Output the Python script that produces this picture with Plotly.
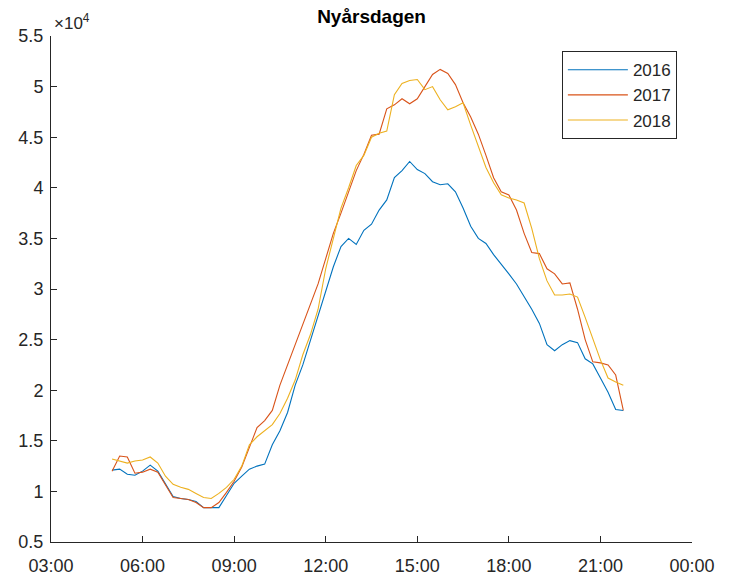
import pandas as pd
import plotly.graph_objects as go

# Quarter-hour readings on New Year's Day, 05:00 - 21:45
times = pd.date_range("2018-01-01 05:00", "2018-01-01 21:45", freq="15min")

load_2016 = [
    12100, 12200, 11700, 11600, 12000, 12600, 12000, 10700, 9500, 9300, 9200, 9000,
    8400, 8400, 8400, 9600, 10800, 11500, 12200, 12500, 12700, 14600, 16000, 17800,
    20500, 22500, 24900, 27300, 29800, 32200, 34200, 35000, 34400, 35800, 36400, 37800,
    38800, 41000, 41700, 42600, 41800, 41400, 40600, 40300, 40400, 39600, 38000, 36200,
    35000, 34500, 33400, 32500, 31500, 30500, 29300, 28000, 26600, 24500, 23900, 24500,
    24900, 24700, 23100, 22600, 21200, 19800, 18100, 18000,
]
load_2017 = [
    12000, 13500, 13400, 11800, 11900, 12200, 11900, 10600, 9400, 9300, 9200, 8900,
    8400, 8400, 8900, 9900, 11000, 12400, 14300, 16300, 17000, 18000, 20500, 22500,
    24500, 26700, 28600, 30500, 33000, 35500, 37500, 39500, 41700, 43300, 45200, 45300,
    47800, 48200, 48800, 48300, 48800, 50000, 51200, 51700, 51300, 50200, 48400, 47000,
    45300, 43200, 41000, 39600, 39300, 37800, 35500, 33600, 33500, 32000, 31500, 30500,
    30600, 28000, 25000, 22800, 22700, 22500, 21500, 18000,
]
load_2018 = [
    13200, 13000, 12800, 13000, 13100, 13400, 12800, 11500, 10700, 10400, 10200, 9800,
    9400, 9300, 9800, 10400, 11200, 12500, 14600, 15400, 16000, 16600, 17700, 19200,
    21000, 23500, 25500, 28000, 32000, 35000, 38000, 40000, 42200, 43200, 45000, 45400,
    45600, 49200, 50300, 50600, 50700, 49700, 50000, 48700, 47700, 48000, 48400, 46200,
    44000, 42000, 40500, 39300, 39000, 38800, 38500, 36000, 33000, 30800, 29400, 29400,
    29500, 29200, 27200, 25000, 23000, 21200, 20800, 20500,
]

series = [
    ("2016", load_2016, "#0072BD"),
    ("2017", load_2017, "#D95319"),
    ("2018", load_2018, "#EDB120"),
]

y_ticks = [5000 * k for k in range(1, 12)]
y_tick_text = ["0.5", "1", "1.5", "2", "2.5", "3", "3.5", "4", "4.5", "5", "5.5"]

ink = "#262626"
font_family = "Liberation Sans, Arial, sans-serif"

fig = go.Figure()
for name, values, color in series:
    fig.add_trace(go.Scatter(
        x=times, y=values, mode="lines", name=name,
        line=dict(color=color, width=1.1),
    ))

fig.update_layout(
    width=745, height=577,
    margin=dict(l=51, r=53, t=36, b=35, autoexpand=False),
    paper_bgcolor="white", plot_bgcolor="white",
    font=dict(family=font_family, size=18, color=ink),
    title=dict(
        text="<b>Nyårsdagen</b>", x=0.4987, xanchor="center",
        y=0.972, yanchor="middle", font=dict(size=19, color="black"),
    ),
    showlegend=True,
    legend=dict(
        x=0.797, y=0.97, xanchor="left", yanchor="top",
        bgcolor="white", bordercolor=ink, borderwidth=1,
        font=dict(size=17, color=ink), tracegroupgap=0,
        itemwidth=60,
    ),
)

fig.update_xaxes(
    range=["2018-01-01 03:00", "2018-01-02 00:00"],
    tickformat="%H:%M", dtick=3 * 3600 * 1000,
    tick0="2018-01-01 03:00",
    showline=True, linecolor=ink, linewidth=1,
    ticks="inside", ticklen=6, tickcolor=ink,
    showgrid=False, zeroline=False, automargin=False,
    tickfont=dict(size=18, color=ink),
    ticklabelstandoff=7,
)
fig.update_yaxes(
    range=[5000, 55000], tickvals=y_ticks, ticktext=y_tick_text,
    showline=True, linecolor=ink, linewidth=1,
    ticks="inside", ticklen=6, tickcolor=ink,
    showgrid=False, zeroline=False, automargin=False,
    tickfont=dict(size=18, color=ink),
    ticklabelstandoff=3,
)

# Exponent marker for the y axis
fig.add_annotation(
    text="×10<sup>4</sup>", xref="paper", yref="paper",
    x=0.0, y=1.0, xanchor="left", yanchor="bottom",
    showarrow=False, font=dict(size=17, color=ink), xshift=1, yshift=1,
)

fig.write_html("out.html")
